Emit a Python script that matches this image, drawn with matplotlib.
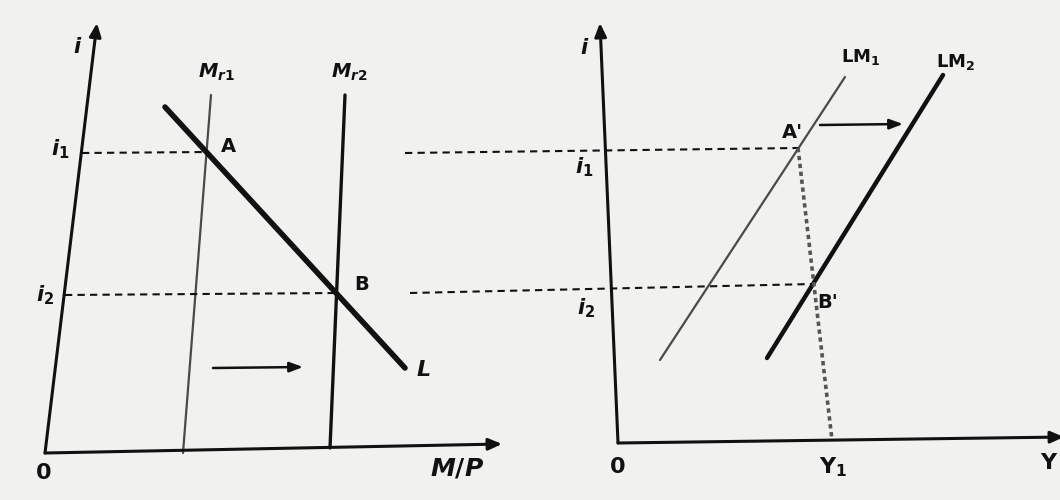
import matplotlib.pyplot as plt

plt.rcParams['mathtext.fontset'] = 'custom'
plt.rcParams['mathtext.it'] = 'DejaVu Sans:italic:bold'
plt.rcParams['mathtext.rm'] = 'DejaVu Sans:bold'
plt.rcParams['mathtext.bf'] = 'DejaVu Sans:bold'

# Diagram geometry (pixel space of the scanned page, y grows downward)
# left panel: money market
left_origin = (45, 453)
left_i_top = (97, 23)
left_x_end = (502, 444)
mr1_line = [(183, 453), (211, 95)]
mr2_line = [(330, 448), (345, 95)]
l_line = [(165, 107), (405, 368)]
point_a = (207, 152)
point_b = (338, 293)

# right panel: IS-LM space
right_origin = (618, 443)
right_i_top = (600, 23)
right_x_end = (1064, 437)
lm1_line = [(660, 360), (845, 77)]
lm2_line = [(767, 358), (943, 75)]
point_a2 = (798, 148)
point_b2 = (813, 284)
y1_foot = (832, 440)

# guide lines
i1_dash_left = [(82, 153), point_a]
i2_dash_left = [(65, 295), point_b]
i1_dash_mid = [(405, 153), point_a2]
i2_dash_mid = [(410, 293), point_b2]
shift_arrow_left = [(213, 368), (303, 367)]
shift_arrow_right = [(820, 125), (903, 124)]

fig = plt.figure(figsize=(10.6, 5.0), dpi=100)
fig.patch.set_facecolor('#f1f1ef')
ax = fig.add_axes([0, 0, 1, 1])
ax.set_xlim(0, 1060)
ax.set_ylim(500, 0)
ax.axis('off')

ink = '#111111'


def seg(pts, **kw):
    xs = [p[0] for p in pts]
    ys = [p[1] for p in pts]
    ax.plot(xs, ys, solid_capstyle='round', **kw)


def arrow(start, end, lw=2.2, hw=0.35, hl=0.8):
    ax.annotate('', xy=end, xytext=start, annotation_clip=False,
                arrowprops=dict(arrowstyle=f'-|>,head_width={hw},head_length={hl}',
                                color=ink, lw=lw, shrinkA=0, shrinkB=0))


# axes of both panels
arrow(left_origin, left_i_top)
arrow(left_origin, left_x_end)
arrow(right_origin, right_i_top)
arrow(right_origin, right_x_end)

# left panel curves
seg(mr1_line, color='#4a4a4a', lw=1.6)
seg(mr2_line, color=ink, lw=2.4)
seg(l_line, color=ink, lw=4.0)

# right panel curves
seg(lm1_line, color='#4a4a4a', lw=1.6)
seg(lm2_line, color=ink, lw=3.2)

# dashed guides
for d in [i1_dash_left, i2_dash_left, i1_dash_mid, i2_dash_mid]:
    seg(d, color=ink, lw=1.5, ls=(0, (3.5, 2.5)))
seg([point_a2, y1_foot], color='#555555', lw=2.6, ls=(0, (1.2, 1.0)))

# shift arrows
arrow(*shift_arrow_left, lw=1.8, hw=0.3, hl=0.8)
arrow(*shift_arrow_right, lw=1.8, hw=0.3, hl=0.8)

# labels
lab = dict(color=ink, ha='center', va='center')
ax.text(78, 47, r'$i$', fontsize=15, **lab)
ax.text(60, 149, r'$i_{1}$', fontsize=15, **lab)
ax.text(45, 295, r'$i_{2}$', fontsize=15, **lab)
ax.text(43, 473, r'$\mathit{0}$', fontsize=16, **lab)
ax.text(457, 469, r'$M/P$', fontsize=18, **lab)
ax.text(216, 72, r'$M_{r1}$', fontsize=14, **lab)
ax.text(349, 72, r'$M_{r2}$', fontsize=14, **lab)
ax.text(228, 147, 'A', fontsize=14, fontweight='bold', **lab)
ax.text(362, 284, 'B', fontsize=14, fontweight='bold', **lab)
ax.text(423, 370, r'$L$', fontsize=16, **lab)

ax.text(585, 48, r'$i$', fontsize=15, **lab)
ax.text(584, 167, r'$i_{1}$', fontsize=15, **lab)
ax.text(586, 308, r'$i_{2}$', fontsize=15, **lab)
ax.text(618, 467, '0', fontsize=16, fontweight='bold', **lab)
ax.text(833, 467, r'$\mathrm{Y}_{1}$', fontsize=16, **lab)
ax.text(1048, 463, 'Y', fontsize=16, fontweight='bold', **lab)
ax.text(861, 57, r'$\mathrm{LM}_{1}$', fontsize=13, **lab)
ax.text(956, 62, r'$\mathrm{LM}_{2}$', fontsize=13, **lab)
ax.text(792, 133, "A'", fontsize=14, fontweight='bold', **lab)
ax.text(828, 303, "B'", fontsize=14, fontweight='bold', **lab)

plt.savefig('out.png', dpi=100, facecolor=fig.get_facecolor())
